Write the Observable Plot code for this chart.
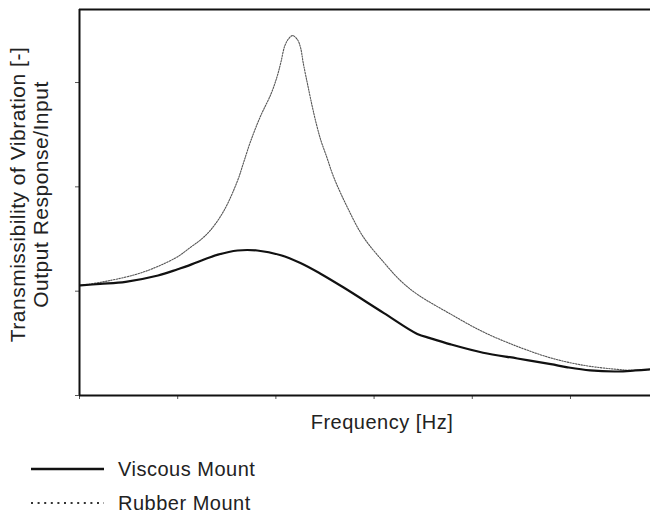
<!DOCTYPE html>
<html>
<head>
<meta charset="utf-8">
<script src="https://cdn.jsdelivr.net/npm/d3@7"></script>
<script src="https://cdn.jsdelivr.net/npm/@observablehq/plot@0.6"></script>
<style>
  html, body { margin: 0; padding: 0; background: #fff; }
  #wrap { width: 650px; font-family: "Liberation Sans", Arial, Helvetica, sans-serif; color: #222; }
  #legend { position: relative; width: 650px; height: 70px; }
  .row { position: absolute; left: 0; height: 24px; }
  .row svg { position: absolute; left: 0; top: 0; }
  .row span { position: absolute; left: 118px; top: 0; line-height: 24px; font-size: 20px; letter-spacing: 0.5px; white-space: nowrap; }
</style>
</head>
<body>
<div id="wrap"></div>
<script>
// ---- data (arbitrary frequency units, ticks unlabelled) ----
const xTicks = [0, 1, 2, 3, 4, 5];
const yTicks = [0, 1, 2, 3];
const xMax = 5.815;
const yMax = 3.70;

const seriesNames = ["Viscous Mount", "Rubber Mount"];

const freqViscous  = [0.01, 0.21, 0.47, 0.80, 1.00, 1.11, 1.23, 1.41, 1.61, 1.81, 2.05, 2.25, 2.45, 2.69, 3.10, 3.44, 3.57, 3.78, 4.11, 4.46, 4.80, 4.97, 5.20, 5.48, 5.66, 5.815];
const transViscous = [1.055, 1.07, 1.09, 1.15, 1.21, 1.245, 1.29, 1.35, 1.39, 1.39, 1.345, 1.27, 1.17, 1.035, 0.79, 0.59, 0.55, 0.49, 0.41, 0.355, 0.30, 0.27, 0.24, 0.23, 0.24, 0.25];

const freqRubber  = [0.01, 0.30, 0.64, 0.98, 1.13, 1.23, 1.33, 1.47, 1.61, 1.67, 1.74, 1.84, 1.95, 2.01, 2.05, 2.09, 2.13, 2.17, 2.22, 2.25, 2.28, 2.33, 2.38, 2.45, 2.52, 2.59, 2.73, 2.89, 3.10, 3.27, 3.44, 3.78, 4.11, 4.46, 4.80, 5.13, 5.48, 5.66, 5.815];
const transRubber = [1.055, 1.10, 1.18, 1.32, 1.42, 1.49, 1.58, 1.77, 2.06, 2.23, 2.43, 2.67, 2.89, 3.05, 3.19, 3.35, 3.42, 3.45, 3.41, 3.34, 3.18, 2.95, 2.73, 2.47, 2.28, 2.09, 1.80, 1.52, 1.275, 1.10, 0.97, 0.78, 0.61, 0.47, 0.36, 0.29, 0.25, 0.24, 0.25];

const xLabel = "Frequency [Hz]";
const yLabel = "Transmissibility of Vibration [-]\nOutput Response/Input";

// ---- build tables ----
const viscous = freqViscous.map((f, i) => ({f, t: transViscous[i]}));
const rubber  = freqRubber.map((f, i) => ({f, t: transRubber[i]}));

const chart = Plot.plot({
  width: 650,
  height: 445,
  marginLeft: 79,
  marginRight: 0,
  marginTop: 9,
  marginBottom: 50,
  style: {fontFamily: "'Liberation Sans', Arial, Helvetica, sans-serif", fontSize: "20px", letterSpacing: "0.5px", color: "#222", background: "#fff"},
  x: {domain: [0, xMax]},
  y: {domain: [0, yMax]},
  marks: [
    Plot.axisX(xTicks, {tickSize: 4, tickFormat: () => "", label: null, stroke: "#555"}),
    Plot.axisY(yTicks, {tickSize: 4, tickFormat: () => "", label: null, stroke: "#555"}),
    Plot.ruleX([0], {stroke: "#111", strokeWidth: 2}),
    Plot.ruleY([0], {stroke: "#111", strokeWidth: 2}),
    Plot.ruleY([yMax], {stroke: "#111", strokeWidth: 2}),
    Plot.line(rubber, {x: "f", y: "t", curve: "catmull-rom", stroke: "#555", strokeWidth: 1.1, strokeDasharray: "1.5,1.3"}),
    Plot.line(viscous, {x: "f", y: "t", curve: "catmull-rom", stroke: "#111", strokeWidth: 2.2}),
    Plot.text([xLabel], {frameAnchor: "bottom", dx: 17, dy: 33, fontSize: 20, fill: "#222"}),
    Plot.text([yLabel], {frameAnchor: "left", textAnchor: "middle", rotate: -90, dx: -50, dy: -8, fontSize: 21, lineHeight: 1.08, fill: "#222"})
  ]
});

const wrap = document.getElementById("wrap");
wrap.appendChild(chart);

// ---- legend ----
const legend = document.createElement("div");
legend.id = "legend";
const styles = [
  {dash: null, width: 2.5, color: "#111", top: 12},
  {dash: "2,4.6", width: 2, color: "#333", top: 46}
];
seriesNames.forEach((name, i) => {
  const s = styles[i];
  const row = document.createElement("div");
  row.className = "row";
  row.style.top = s.top + "px";
  row.style.width = "650px";
  const svg = d3.create("svg").attr("width", 110).attr("height", 24);
  svg.append("line")
    .attr("x1", 31).attr("x2", 104).attr("y1", 12).attr("y2", 12)
    .attr("stroke", s.color).attr("stroke-width", s.width)
    .attr("stroke-dasharray", s.dash);
  row.appendChild(svg.node());
  const span = document.createElement("span");
  span.textContent = name;
  row.appendChild(span);
  legend.appendChild(row);
});
wrap.appendChild(legend);
</script>
</body>
</html>
